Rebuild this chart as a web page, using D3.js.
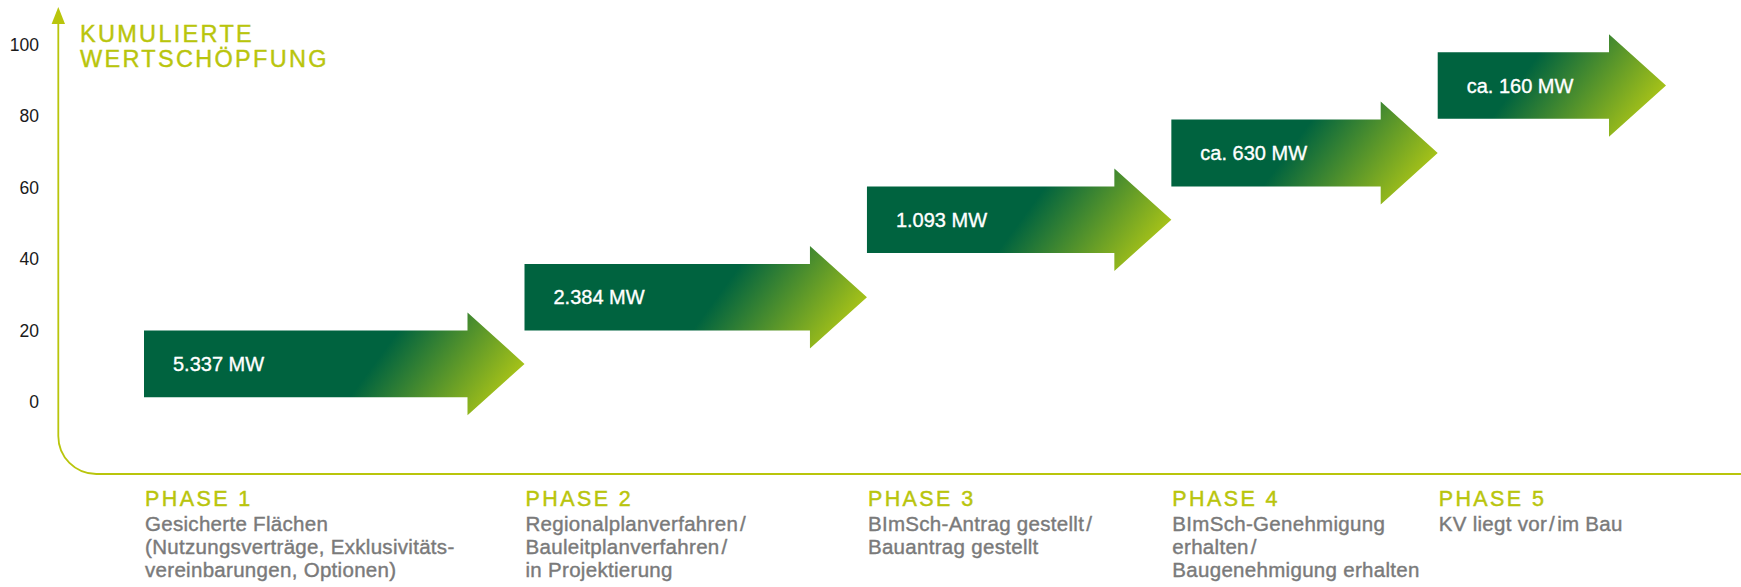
<!DOCTYPE html>
<html>
<head>
<meta charset="utf-8">
<script src="https://cdn.jsdelivr.net/npm/d3@7"></script>
<style>
  body { margin: 0; background: #fff; }
  svg { display: block; font-family: "Liberation Sans", Arial, Helvetica, sans-serif; }
</style>
</head>
<body>
<div id="chart"></div>
<script>
// data
const phases = ["PHASE 1", "PHASE 2", "PHASE 3", "PHASE 4", "PHASE 5"];
const phaseStart = [0, 25, 47.5, 67.5, 85];
const phaseEnd = [25, 47.5, 67.5, 85, 100];
const capacity = ["5.337 MW", "2.384 MW", "1.093 MW", "ca. 630 MW", "ca. 160 MW"];
const levelLow = [1.3, 20, 41.7, 60.3, 79.2];
const levelHigh = [20, 38.6, 60.3, 79, 97.8];
const descriptions = [
  ["Gesicherte Flächen", "(Nutzungsverträge, Exklusivitäts-", "vereinbarungen, Optionen)"],
  ["Regionalplanverfahren\u200a/", "Bauleitplanverfahren\u200a/", "in Projektierung"],
  ["BImSch-Antrag gestellt\u200a/", "Bauantrag gestellt"],
  ["BImSch-Genehmigung", "erhalten\u200a/", "Baugenehmigung erhalten"],
  ["KV liegt vor\u200a/\u200aim Bau"]
];
const yTicks = [0, 20, 40, 60, 80, 100];

const W = 1741, H = 587;
const lime = "#b9c50c";
const darkGreen = "#00633f";
const brightLime = "#b9cd14";

const svg = d3.select("#chart").append("svg")
  .attr("width", W)
  .attr("height", H);

const x = d3.scaleLinear().domain([0, 100]).range([144, 1666]);
const y = d3.scaleLinear().domain([0, 100]).range([402, 44.5]);

// frame: y axis with arrow, rounded corner, baseline
const axisX = 58.3, baseY = 474, r = 38;
svg.append("path")
  .attr("d", `M${axisX},22 L${axisX},${baseY - r} A${r},${r} 0 0 0 ${axisX + r},${baseY} L${W},${baseY}`)
  .attr("fill", "none")
  .attr("stroke", lime)
  .attr("stroke-width", 1.8);

svg.append("path")
  .attr("d", `M${axisX - 6.7},24 L${axisX},7 L${axisX + 6.7},24 Z`)
  .attr("fill", lime);

// tick labels
const yAxis = svg.append("g")
  .attr("transform", "translate(44,0)")
  .call(d3.axisLeft(y).tickValues(yTicks).tickSize(0).tickPadding(5));
yAxis.select(".domain").remove();
yAxis.selectAll("text")
  .attr("font-size", 17.5)
  .attr("font-family", "Liberation Sans, Arial, sans-serif")
  .attr("fill", "#1a1a1a");

// title
const title = svg.append("text")
  .attr("x", 80)
  .attr("y", 42)
  .attr("fill", lime)
  .attr("stroke", lime)
  .attr("stroke-width", 0.4)
  .style("font-size", "23.5px")
  .style("letter-spacing", "2.3px");
title.append("tspan").attr("x", 80).text("KUMULIERTE");
title.append("tspan").attr("x", 80).attr("dy", 24.7).text("WERTSCHÖPFUNG");

// arrows
const headOver = 18, headLen = 57;
const defs = svg.append("defs");

phases.forEach((p, i) => {
  const x0 = x(phaseStart[i]);
  const xt = x(phaseEnd[i]);
  const xh = xt - headLen;
  const yTop = y(levelHigh[i]);
  const yBot = y(levelLow[i]);
  const yc = (yTop + yBot) / 2;

  const grad = defs.append("linearGradient")
    .attr("id", "grad" + i)
    .attr("gradientUnits", "userSpaceOnUse")
    .attr("x1", xt - 160).attr("y1", yTop - headOver)
    .attr("x2", xt - 20).attr("y2", yBot + headOver);
  grad.append("stop").attr("offset", 0.22).attr("stop-color", darkGreen);
  grad.append("stop").attr("offset", 1).attr("stop-color", brightLime);

  svg.append("path")
    .attr("d", `M${x0},${yTop} L${xh},${yTop} L${xh},${yTop - headOver} L${xt},${yc} L${xh},${yBot + headOver} L${xh},${yBot} L${x0},${yBot} Z`)
    .attr("fill", `url(#grad${i})`);

  svg.append("text")
    .attr("x", x0 + 29)
    .attr("y", yc + 7)
    .attr("fill", "#fff")
    .attr("stroke", "#fff")
    .attr("stroke-width", 0.35)
    .style("font-size", "20px")
    .text(capacity[i]);

  // phase labels under the baseline
  svg.append("text")
    .attr("x", x0 + 1)
    .attr("y", 505.5)
    .attr("fill", lime)
    .attr("stroke", lime)
    .attr("stroke-width", 0.45)
    .style("font-size", "21.5px")
    .style("letter-spacing", "2.4px")
    .text(p);

  const desc = svg.append("text")
    .attr("fill", "#7a7a7a")
    .attr("stroke", "#7a7a7a")
    .attr("stroke-width", 0.4)
    .style("font-size", "20.5px")
    .style("letter-spacing", "0.3px");
  descriptions[i].forEach((line, j) => {
    desc.append("tspan")
      .attr("x", x0 + 1)
      .attr("y", 530.5 + j * 23.2)
      .text(line);
  });
});
</script>
</body>
</html>
